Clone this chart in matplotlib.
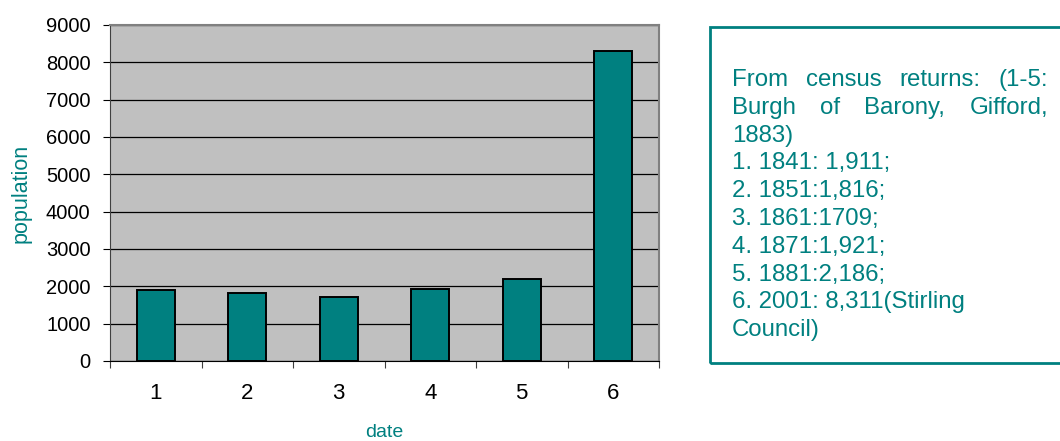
import numpy as np
import matplotlib
matplotlib.use("Agg")
import matplotlib.pyplot as plt
from matplotlib.patches import Rectangle

plt.rcParams["font.family"] = ["Liberation Sans", "DejaVu Sans"]

# ---- data ----
categories = ["1", "2", "3", "4", "5", "6"]
population = [1911, 1816, 1709, 1921, 2186, 8311]
y_ticks = [0, 1000, 2000, 3000, 4000, 5000, 6000, 7000, 8000, 9000]

note_justified = [
    "From census returns: (1-5:",
    "Burgh of Barony, Gifford,",
]
note_plain = [
    "1883)",
    "1. 1841: 1,911;",
    "2. 1851:1,816;",
    "3. 1861:1709;",
    "4. 1871:1,921;",
    "5. 1881:2,186;",
    "6. 2001: 8,311(Stirling",
    "Council)",
]

TEAL = "#008080"
W, H = 1060, 441

fig = plt.figure(figsize=(W / 100, H / 100), dpi=100)
ax = fig.add_axes([110 / W, 80 / H, 549 / W, 336 / H])

x = np.arange(1, len(categories) + 1)
ax.set_facecolor("#c0c0c0")
ax.bar(x, population, width=0.415, color=TEAL, edgecolor="black",
       linewidth=1.4, zorder=3)

ax.set_xlim(0.5, len(categories) + 0.5)
ax.set_ylim(0, 9000)
ax.set_yticks(y_ticks)
ax.yaxis.grid(True, color="black", linewidth=0.9, zorder=1)
ax.set_axisbelow(True)

ax.set_xticks(x)
ax.set_xticklabels(categories)
ax.set_xticks(np.arange(0.5, len(categories) + 1), minor=True)
ax.tick_params(axis="x", which="major", length=0, pad=16, labelsize=16)
ax.tick_params(axis="x", which="minor", length=5, width=0.8, color="#404040")
ax.tick_params(axis="y", length=5, width=0.8, color="black", pad=9, labelsize=14.5)

for s in ["top", "right"]:
    ax.spines[s].set_color("#808080")
    ax.spines[s].set_linewidth(1.5)
ax.spines["left"].set_color("#404040")
ax.spines["bottom"].set_color("black")

ax.set_ylabel("population", color=TEAL, fontsize=15.5, labelpad=10)
ax.set_xlabel("date", color=TEAL, fontsize=14, labelpad=14)

# ---- note box ----
box = Rectangle((710 / W, (H - 363) / H), 400 / W, 336 / H,
                transform=fig.transFigure, fill=False, edgecolor=TEAL,
                linewidth=2, clip_on=False)
fig.add_artist(box)

fs = 17.3
left_px, right_px = 732, 1048
line_h = 27.8
y0 = 80

renderer = fig.canvas.get_renderer()
for i, line in enumerate(note_justified):
    yy = (H - (y0 + i * line_h)) / H
    words = line.split(" ")
    texts = [fig.text(0, yy, w, fontsize=fs, color=TEAL, va="center") for w in words]
    widths = [t.get_window_extent(renderer).width for t in texts]
    gap = (right_px - left_px - sum(widths)) / (len(words) - 1)
    pos = left_px
    for t, wd in zip(texts, widths):
        t.set_x(pos / W)
        pos += wd + gap

for j, line in enumerate(note_plain):
    k = j + len(note_justified)
    yy = (H - (y0 + k * line_h)) / H
    fig.text(left_px / W, yy, line, fontsize=fs, color=TEAL, va="center")

fig.savefig("out.png", dpi=100)
